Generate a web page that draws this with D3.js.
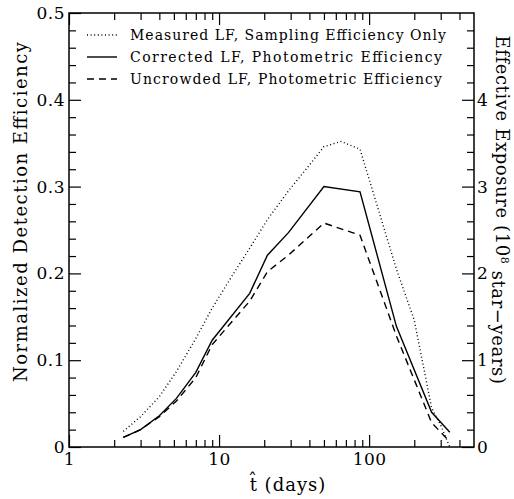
<!DOCTYPE html>
<html>
<head>
<meta charset="utf-8">
<script src="https://cdn.jsdelivr.net/npm/d3@7/dist/d3.min.js"></script>
<style>
  html, body { margin: 0; padding: 0; background: #fff; }
  svg text { font-family: "DejaVu Serif", serif; fill: #000; }
</style>
</head>
<body>
<svg id="chart" width="514" height="499"></svg>
<script>
// ---- data ----
const tDays = [2.3, 3, 4, 5.2, 7, 9, 16, 21, 29, 50, 87, 152, 261, 345];
const correctedEff = [0.011, 0.020, 0.036, 0.056, 0.086, 0.123, 0.177, 0.221, 0.247, 0.300, 0.294, 0.139, 0.040, 0.017];
const uncrowdedEff = [0.011, 0.020, 0.035, 0.053, 0.080, 0.118, 0.168, 0.202, 0.221, 0.258, 0.244, 0.128, 0.028, 0.006];
const measuredT = [2.3, 3, 4, 5.2, 7, 9, 12, 16, 21, 29, 38, 50, 65, 87, 152, 200, 261, 300, 345];
const measuredEff = [0.018, 0.035, 0.058, 0.087, 0.125, 0.160, 0.195, 0.229, 0.262, 0.295, 0.320, 0.346, 0.352, 0.343, 0.205, 0.146, 0.045, 0.025, 0.0];

const xMajorTicks = [1, 10, 100];
const xMinorTicks = [2,3,4,5,6,7,8,9,20,30,40,50,60,70,80,90,200,300,400];
const yMajorTicks = [0, 0.1, 0.2, 0.3, 0.4, 0.5];
const yTickLabels = ["0", "0.1", "0.2", "0.3", "0.4", "0.5"];
const yMinorTicks = d3.range(0.02, 0.5, 0.02).filter(v => Math.abs(v*10 - Math.round(v*10)) > 1e-6);
const rMajorTicks = [0, 1, 2, 3, 4];
const rMinorTicks = d3.range(0.2, 5, 0.2).filter(v => Math.abs(v - Math.round(v)) > 1e-6);

const legendLabels = [
  "Measured LF, Sampling Efficiency Only",
  "Corrected LF, Photometric Efficiency",
  "Uncrowded LF, Photometric Efficiency"
];
const legendDash = ["1,2.6", null, "7,5"];

// ---- layout ----
const L = 69, R = 474, T = 13, B = 447;
const svg = d3.select("#chart");
const x = d3.scaleLog().domain([1, 500]).range([L, R]);
const y = d3.scaleLinear().domain([0, 0.5]).range([B, T]);
const yr = d3.scaleLinear().domain([0, 5]).range([B, T]);

const MAJ = 12, MIN = 7;
function styleAxis(g) {
  g.select(".domain").remove();
  g.selectAll("line").attr("stroke", "#000").attr("stroke-width", 1.2);
  g.selectAll("text").style("font-family", "DejaVu Serif").style("font-size", "17px")
    .style("letter-spacing", "0.5px").attr("fill", "#000");
}

// bottom axis
svg.append("g").attr("transform", `translate(0,${B})`)
  .call(d3.axisBottom(x).tickValues(xMajorTicks).tickFormat(d3.format("d")).tickSize(-MAJ).tickPadding(6))
  .call(styleAxis);
svg.append("g").attr("transform", `translate(0,${B})`)
  .call(d3.axisBottom(x).tickValues(xMinorTicks).tickFormat("").tickSize(-MIN))
  .call(styleAxis);
// top axis
svg.append("g").attr("transform", `translate(0,${T})`)
  .call(d3.axisTop(x).tickValues(xMajorTicks).tickFormat("").tickSize(-MAJ))
  .call(styleAxis);
svg.append("g").attr("transform", `translate(0,${T})`)
  .call(d3.axisTop(x).tickValues(xMinorTicks).tickFormat("").tickSize(-MIN))
  .call(styleAxis);
// left axis
svg.append("g").attr("transform", `translate(${L},0)`)
  .call(d3.axisLeft(y).tickValues(yMajorTicks).tickFormat((d, i) => yTickLabels[i]).tickSize(-MAJ).tickPadding(4))
  .call(styleAxis);
svg.append("g").attr("transform", `translate(${L},0)`)
  .call(d3.axisLeft(y).tickValues(yMinorTicks).tickFormat("").tickSize(-MIN))
  .call(styleAxis);
// right axis
svg.append("g").attr("transform", `translate(${R},0)`)
  .call(d3.axisRight(yr).tickValues(rMajorTicks).tickFormat(d3.format("d")).tickSize(-MAJ).tickPadding(3))
  .call(styleAxis);
svg.append("g").attr("transform", `translate(${R},0)`)
  .call(d3.axisRight(yr).tickValues(rMinorTicks).tickFormat("").tickSize(-MIN))
  .call(styleAxis);

// frame
svg.append("rect").attr("x", L).attr("y", T).attr("width", R - L).attr("height", B - T)
  .attr("fill", "none").attr("stroke", "#000").attr("stroke-width", 1.5);

// curves
const line = d3.line().x(d => x(d[0])).y(d => y(d[1]));
function drawCurve(ts, vs, dash, w) {
  svg.append("path").datum(ts.map((t, i) => [t, vs[i]]))
    .attr("d", line).attr("fill", "none").attr("stroke", "#000")
    .attr("stroke-width", w).attr("stroke-dasharray", dash);
}
drawCurve(measuredT, measuredEff, legendDash[0], 1.4);
drawCurve(tDays, correctedEff, legendDash[1], 1.4);
drawCurve(tDays, uncrowdedEff, legendDash[2], 1.4);

// legend
const legendWidths = [316, 312, 312];
legendLabels.forEach((lab, i) => {
  const ly = 35 + i * 22;
  svg.append("line").attr("x1", 87).attr("x2", 117).attr("y1", ly).attr("y2", ly)
    .attr("stroke", "#000").attr("stroke-width", 1.4).attr("stroke-dasharray", legendDash[i]);
  svg.append("text").attr("x", 130).attr("y", ly).attr("dy", "0.35em")
    .attr("textLength", legendWidths[i]).attr("lengthAdjust", "spacing")
    .style("font-size", "14px").text(lab);
});

// axis titles
svg.append("text").attr("transform", "translate(21,212) rotate(-90)")
  .attr("text-anchor", "middle").attr("dy", "0.35em").style("font-size", "18px")
  .attr("textLength", 340).attr("lengthAdjust", "spacing")
  .text("Normalized Detection Efficiency");

const rt = svg.append("text").attr("transform", "translate(502,210) rotate(90)")
  .attr("text-anchor", "middle").attr("dy", "0.35em").style("font-size", "18px")
  .style("letter-spacing", "0.6px");
rt.append("tspan").text("Effective Exposure (10");
rt.append("tspan").attr("dy", "-0.5em").style("font-size", "11px").text("8");
rt.append("tspan").attr("dy", "0.5em").text(" star\u2212years)");

svg.append("text").attr("x", 288).attr("y", 491).attr("text-anchor", "middle")
  .style("font-size", "18px").style("letter-spacing", "1px").text("t\u0302 (days)");
</script>
</body>
</html>
